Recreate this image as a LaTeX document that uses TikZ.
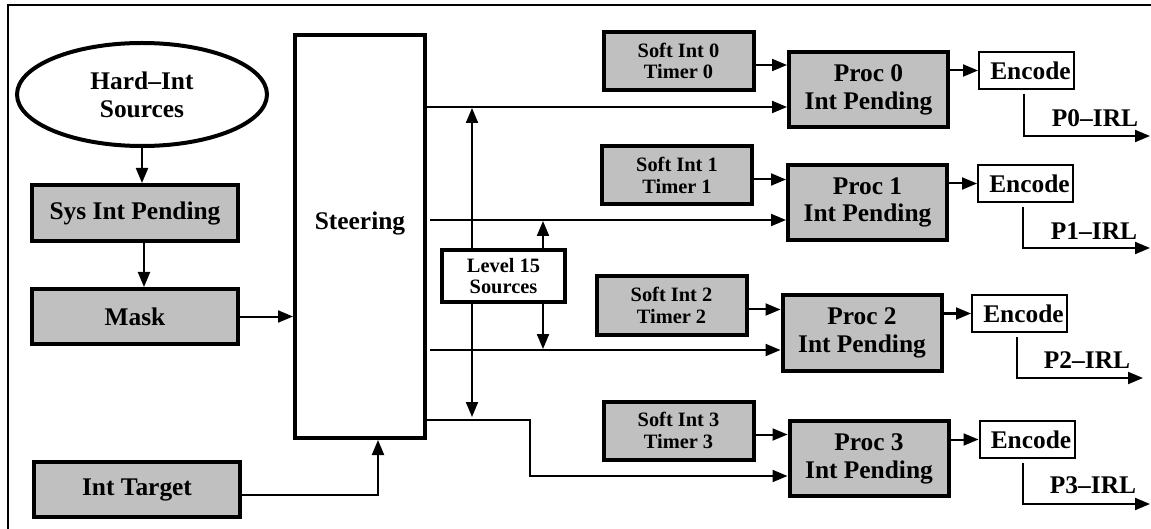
\documentclass[tikz,border=0pt]{standalone}
\usepackage{fontspec}
\setmainfont{Liberation Serif}
\usetikzlibrary{arrows.meta,shapes.geometric,calc}
\definecolor{boxgray}{RGB}{192,192,192}

\begin{document}
\begin{tikzpicture}[x=0.5pt,y=-0.5pt,
  big/.style={font=\bfseries\fontsize{12.7}{13.9}\selectfont},
  small/.style={font=\bfseries\fontsize{10.2}{10.9}\selectfont},
  block/.style={draw, line width=2pt, fill=boxgray, align=center, inner sep=0pt},
  plainbox/.style={draw, line width=2pt, fill=white, align=center, inner sep=0pt},
  softbox/.style={block, small, minimum width=75pt, minimum height=29pt},
  procbox/.style={block, big, minimum width=79.5pt, minimum height=37.5pt},
  encbox/.style={draw, line width=1pt, fill=white, big, inner sep=0pt,
                 minimum width=47.5pt, minimum height=18.5pt},
  conn/.style={line width=1pt, -{Triangle[length=7.5pt,width=6pt]}}
]
\useasboundingbox (0,0) rectangle (1151,529);

% outer frame (top and left edges)
\draw[line width=1pt] (8,529) -- (8,5) -- (1151,5);

% left column
\node[ellipse, plainbox, big, minimum width=125pt, minimum height=51.5pt]
  (hard) at (142,94.5) {Hard–Int\\Sources};
\node[block, big, minimum width=103pt, minimum height=28pt]   (sys)    at (135,213)   {Sys Int Pending};
\node[block, big, minimum width=103pt, minimum height=27.5pt] (mask)   at (135,316.5) {Mask};
\node[block, big, minimum width=103pt, minimum height=27.5pt] (target) at (137,489.5) {Int Target};

% steering block
\node[plainbox, minimum width=65pt, minimum height=201.5pt] (steer) at (360,236.5) {};
\node[big] (steerlbl) at (360,223) {Steering};

% level 15 sources
\node[plainbox, small, minimum width=61.5pt, minimum height=26pt] (level) at (503.5,276) {Level 15\\Sources};

% soft interrupt / timer blocks
\node[softbox] (soft0) at (678.5,61)    {Soft Int 0\\Timer 0};
\node[softbox] (soft1) at (677,175.5)   {Soft Int 1\\Timer 1};
\node[softbox] (soft2) at (671.5,305.5) {Soft Int 2\\Timer 2};
\node[softbox] (soft3) at (678.5,430.5) {Soft Int 3\\Timer 3};

% per-processor pending registers
\node[procbox] (proc0) at (868.5,89.5) {Proc 0\\Int Pending};
\node[procbox] (proc1) at (867.5,202.5) {Proc 1\\Int Pending};
\node[procbox] (proc2) at (862,333)     {Proc 2\\Int Pending};
\node[procbox] (proc3) at (869,458.5)   {Proc 3\\Int Pending};

% encoders
\node[encbox] (enc0) at (1026.5,70.5)  {\hspace*{4pt}Encode};
\node[encbox] (enc1) at (1025.5,183.5) {\hspace*{4pt}Encode};
\node[encbox] (enc2) at (1019.5,313.5) {\hspace*{4pt}Encode};
\node[encbox] (enc3) at (1027,439.5)   {\hspace*{4pt}Encode};

% output labels
\node[big] (p0) at (1095,118) {P0–IRL};
\node[big] (p1) at (1094,231) {P1–IRL};
\node[big] (p2) at (1087,360) {P2–IRL};
\node[big] (p3) at (1093,485) {P3–IRL};

% left column connectors
\draw[conn] (hard.south) -- (hard.south |- sys.north);
\draw[conn] (sys.south -| 144,0) -- (mask.north -| 144,0);
\draw[conn] (mask.east) -- (mask.east -| steer.west);
\draw[conn] (target.east |- 0,495) -| ($(steer.south)+(18,0)$);

% steering outputs
\draw[conn] (steer.east |- 0,107) -- (proc0.west |- 0,107);
\draw[conn] ($(steer.east |- 0,220)+(3,0)$) -- (proc1.west |- 0,220);
\draw[conn] ($(steer.east |- 0,350)+(3,0)$) -- (proc2.west |- 0,350);
\draw[conn] (steer.east |- 0,420) -- (530,420) -- (530,476) -- (proc3.west |- 0,476);

% level 15 taps
\draw[conn] (level.north -| 472,0) -- (472,108);
\draw[conn] (level.north -| 543,0) -- (543,221);
\draw[conn] (level.south -| 543,0) -- (543,349);
\draw[conn] (level.south -| 472,0) -- (472,417);

% soft/timer into pending
\draw[conn] ($(soft0.east)+(0,4)$) coordinate (a0) -- (a0 -| proc0.west);
\draw[conn] ($(soft1.east)+(0,4)$) coordinate (a1) -- (a1 -| proc1.west);
\draw[conn] ($(soft2.east)+(0,4)$) coordinate (a2) -- (a2 -| proc2.west);
\draw[conn] ($(soft3.east)+(0,4)$) coordinate (a3) -- (a3 -| proc3.west);

% pending into encoders
\draw[conn] (enc0.west -| proc0.east) -- (enc0.west);
\draw[conn] (enc1.west -| proc1.east) -- (enc1.west);
\draw[conn] (enc2.west -| proc2.east) -- (enc2.west);
\draw[conn] (enc3.west -| proc3.east) -- (enc3.west);

% encoder outputs
\coordinate (o0) at (1024,136); \coordinate (t0) at (1150,136);
\coordinate (o1) at (1023,248); \coordinate (t1) at (1150,248);
\coordinate (o2) at (1017,378); \coordinate (t2) at (1143,378);
\coordinate (o3) at (1023,504); \coordinate (t3) at (1150,504);
\draw[conn] ($(enc0.south -| o0)+(0,4)$) -- (o0) -- (t0);
\draw[conn] ($(enc1.south -| o1)+(0,4)$) -- (o1) -- (t1);
\draw[conn] ($(enc2.south -| o2)+(0,4)$) -- (o2) -- (t2);
\draw[conn] ($(enc3.south -| o3)+(0,4)$) -- (o3) -- (t3);
\end{tikzpicture}
\end{document}
